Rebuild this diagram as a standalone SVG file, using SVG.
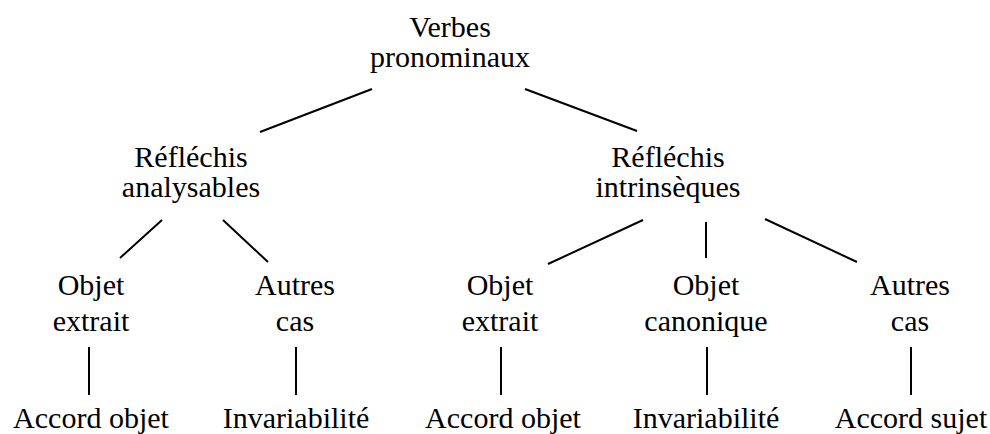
<svg xmlns="http://www.w3.org/2000/svg" width="990" height="434" viewBox="0 0 990 434">
<style>
text{font-family:"Liberation Serif","Times New Roman",serif;font-size:30px;fill:#000;text-anchor:middle}
line{stroke:#000;stroke-width:2;stroke-linecap:butt}
</style>
<rect width="990" height="434" fill="#fff"/>
<g id="connectors">
<line x1="372" y1="89" x2="260" y2="132"/>
<line x1="525" y1="89" x2="637" y2="131"/>
<line x1="162" y1="220" x2="120" y2="258"/>
<line x1="223" y1="220" x2="268" y2="262"/>
<line x1="643" y1="220" x2="548" y2="264"/>
<line x1="706" y1="222" x2="706" y2="258"/>
<line x1="765" y1="219" x2="857" y2="262"/>
<line x1="89" y1="347" x2="89" y2="395"/>
<line x1="296" y1="347" x2="296" y2="395"/>
<line x1="501" y1="347" x2="501" y2="395"/>
<line x1="707" y1="347" x2="707" y2="395"/>
<line x1="911" y1="347" x2="911" y2="395"/>
</g>
<g id="verbes-pronominaux"><text x="450" y="37">Verbes</text><text x="450" y="67">pronominaux</text></g>
<g id="reflechis-analysables"><text x="191" y="167">Réfléchis</text><text x="191" y="197">analysables</text></g>
<g id="reflechis-intrinseques"><text x="668" y="167">Réfléchis</text><text x="668" y="197">intrinsèques</text></g>
<g id="objet-extrait-1"><text x="91" y="295">Objet</text><text x="91" y="331">extrait</text></g>
<g id="autres-cas-1"><text x="295" y="295">Autres</text><text x="295" y="331">cas</text></g>
<g id="objet-extrait-2"><text x="500" y="295">Objet</text><text x="500" y="331">extrait</text></g>
<g id="objet-canonique"><text x="706" y="295">Objet</text><text x="706" y="331">canonique</text></g>
<g id="autres-cas-2"><text x="910" y="295">Autres</text><text x="910" y="331">cas</text></g>
<g id="accord-objet-1"><text x="91" y="428">Accord objet</text></g>
<g id="invariabilite-1"><text x="296" y="428">Invariabilité</text></g>
<g id="accord-objet-2"><text x="503" y="428">Accord objet</text></g>
<g id="invariabilite-2"><text x="706" y="428">Invariabilité</text></g>
<g id="accord-sujet"><text x="911" y="428">Accord sujet</text></g>
</svg>
